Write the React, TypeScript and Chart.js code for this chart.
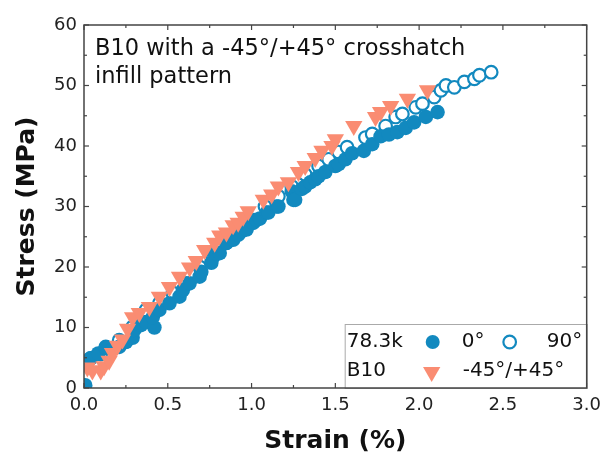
import { useEffect, useRef } from 'react';
import { Chart, registerables } from 'chart.js';

Chart.register(...registerables);

// ---- data (strain %, stress MPa) ----
const strain0 = [0.007, 0.04, 0.085, 0.13, 0.17, 0.21, 0.25, 0.29, 0.30, 0.34, 0.37, 0.42, 0.41, 0.45, 0.51, 0.57, 0.59, 0.63, 0.69, 0.70, 0.76, 0.78, 0.81, 0.85, 0.89, 0.92, 0.94, 0.97, 1.01, 1.03, 1.05, 1.09, 1.10, 1.15, 1.16, 1.24, 1.25, 1.26, 1.30, 1.32, 1.35, 1.38, 1.40, 1.44, 1.50, 1.52, 1.56, 1.60, 1.67, 1.72, 1.77, 1.82, 1.87, 1.92, 1.97, 2.04, 2.11];
const stress0 = [0.45, 4.9, 5.7, 6.6, 6.4, 6.8, 7.6, 8.3, 9.6, 10.4, 10.9, 10.0, 11.7, 12.9, 14.0, 15.1, 16.2, 17.3, 18.4, 19.2, 20.7, 22.3, 22.3, 24.0, 24.5, 25.3, 25.9, 26.2, 27.3, 27.8, 28.0, 29.0, 29.0, 30.0, 30.0, 32.5, 31.1, 31.1, 32.9, 33.3, 34.0, 34.5, 35.0, 35.7, 36.7, 37.0, 37.8, 38.8, 39.2, 40.3, 41.6, 41.9, 42.3, 43.0, 43.9, 44.8, 45.6];

const strain90 = [0.01, 0.04, 0.10, 0.13, 0.21, 0.29, 0.37, 0.45, 0.53, 0.61, 0.69, 0.77, 0.85, 0.93, 1.00, 1.08, 1.16, 1.24, 1.32, 1.40, 1.46, 1.52, 1.57, 1.68, 1.72, 1.80, 1.86, 1.90, 1.98, 2.02, 2.09, 2.13, 2.16, 2.21, 2.27, 2.33, 2.36, 2.43];
const stress90 = [4.3, 4.9, 5.6, 6.8, 7.9, 10.1, 12.9, 14.0, 15.7, 17.3, 20.0, 21.7, 24.0, 26.2, 27.8, 30.0, 31.7, 33.3, 35.3, 36.7, 37.8, 39.0, 39.8, 41.4, 42.0, 43.3, 44.8, 45.3, 46.4, 47.0, 48.1, 49.2, 50.0, 49.7, 50.6, 51.1, 51.7, 52.2];

const strain45 = [0.02, 0.05, 0.10, 0.12, 0.15, 0.17, 0.20, 0.23, 0.26, 0.29, 0.33, 0.39, 0.45, 0.51, 0.57, 0.63, 0.67, 0.72, 0.78, 0.81, 0.85, 0.89, 0.92, 0.95, 0.98, 1.07, 1.12, 1.16, 1.22, 1.28, 1.32, 1.38, 1.42, 1.48, 1.50, 1.61, 1.74, 1.77, 1.83, 1.93, 2.05];
const stress45 = [3.4, 2.9, 2.9, 3.6, 4.5, 5.8, 7.0, 8.0, 9.8, 11.7, 12.4, 13.4, 15.1, 16.7, 18.4, 19.9, 21.0, 22.8, 24.0, 25.2, 25.7, 26.9, 27.3, 28.3, 29.2, 31.1, 32.0, 33.3, 34.0, 35.7, 36.7, 38.0, 39.2, 40.0, 41.1, 43.3, 44.8, 45.6, 46.6, 47.8, 49.2];

const xMajor = [0, 0.5, 1.0, 1.5, 2.0, 2.5, 3.0];
const xMinor = [0.25, 0.75, 1.25, 1.75, 2.25, 2.75];
const yMajor = [0, 10, 20, 30, 40, 50, 60];
const yMinor = [5, 15, 25, 35, 45, 55];

const noteLines = ['B10 with a -45°/+45° crosshatch', 'infill pattern'];
const legendMaterial = ['78.3k', 'B10'];
const legendLabels = ['0°', '90°', '-45°/+45°'];

const BLUE = 'rgb(18,137,191)';
const SALMON = 'rgb(250,140,114)';
const FONT = '"DejaVu Sans", sans-serif';

const toPts = (xs: number[], ys: number[]) => xs.map((x, i) => ({ x, y: ys[i] }));

const decor = {
  id: 'decor',
  afterDatasetsDraw(chart: any) {
    const { ctx, chartArea: a, scales } = chart;
    const xs = scales.x;
    const ys = scales.y;
    ctx.save();
    ctx.strokeStyle = '#444';
    ctx.lineWidth = 1.2;
    const tick = (x1: number, y1: number, x2: number, y2: number) => {
      ctx.beginPath();
      ctx.moveTo(x1, y1);
      ctx.lineTo(x2, y2);
      ctx.stroke();
    };
    xMajor.forEach((v) => {
      const p = xs.getPixelForValue(v);
      tick(p, a.bottom, p, a.bottom - 5);
      tick(p, a.top, p, a.top + 5);
    });
    xMinor.forEach((v) => {
      const p = xs.getPixelForValue(v);
      tick(p, a.bottom, p, a.bottom - 3);
      tick(p, a.top, p, a.top + 3);
    });
    yMajor.forEach((v) => {
      const p = ys.getPixelForValue(v);
      tick(a.left, p, a.left + 5, p);
      tick(a.right, p, a.right - 5, p);
    });
    yMinor.forEach((v) => {
      const p = ys.getPixelForValue(v);
      tick(a.left, p, a.left + 3, p);
      tick(a.right, p, a.right - 3, p);
    });

    // annotation
    ctx.fillStyle = '#111';
    ctx.font = `22.5px ${FONT}`;
    ctx.textBaseline = 'alphabetic';
    ctx.textAlign = 'left';
    ctx.fillText(noteLines[0], a.left + 11, a.top + 30);
    ctx.fillText(noteLines[1], a.left + 11, a.top + 58);

    // legend box
    const bx = a.right - 242;
    const by = a.bottom - 64;
    ctx.fillStyle = '#fff';
    ctx.fillRect(bx, by, a.right - bx, a.bottom - by);
    ctx.strokeStyle = '#aaa';
    ctx.lineWidth = 1;
    ctx.strokeRect(bx + 0.5, by + 0.5, a.right - bx, a.bottom - by);

    const r1 = by + 18;
    const r2 = by + 47;
    ctx.fillStyle = '#111';
    ctx.font = `20px ${FONT}`;
    ctx.textBaseline = 'middle';
    ctx.fillText(legendMaterial[0], bx + 2, r1);
    ctx.fillText(legendLabels[0], bx + 117, r1);
    ctx.fillText(legendLabels[1], bx + 202, r1);
    ctx.fillText(legendMaterial[1], bx + 2, r2);
    ctx.fillText(legendLabels[2], bx + 118, r2);

    // legend markers
    ctx.fillStyle = BLUE;
    ctx.beginPath();
    ctx.arc(bx + 88, r1, 7, 0, Math.PI * 2);
    ctx.fill();
    ctx.strokeStyle = BLUE;
    ctx.lineWidth = 2.2;
    ctx.beginPath();
    ctx.arc(bx + 165, r1, 6.3, 0, Math.PI * 2);
    ctx.stroke();
    const tr = 10;
    const tx = bx + 87;
    const ty = r2 + 1;
    ctx.fillStyle = SALMON;
    ctx.beginPath();
    ctx.moveTo(tx, ty + tr);
    ctx.lineTo(tx - tr * 0.866, ty - tr / 2);
    ctx.lineTo(tx + tr * 0.866, ty - tr / 2);
    ctx.closePath();
    ctx.fill();

    // frame
    ctx.strokeStyle = '#444';
    ctx.lineWidth = 1.5;
    ctx.strokeRect(a.left, a.top, a.right - a.left, a.bottom - a.top);
    ctx.restore();
  },
};

export default function App() {
  const ref = useRef<HTMLCanvasElement>(null);

  useEffect(() => {
    if (!ref.current) return;
    const chart = new Chart(ref.current, {
      type: 'scatter',
      data: {
        datasets: [
          {
            label: '-45°/+45°',
            data: toPts(strain45, stress45),
            pointStyle: 'triangle',
            rotation: 180,
            pointRadius: 10,
            backgroundColor: SALMON,
            borderColor: SALMON,
            borderWidth: 0,
            order: 1,
          },
          {
            label: '0°',
            data: toPts(strain0, stress0),
            pointStyle: 'circle',
            pointRadius: 7.3,
            backgroundColor: BLUE,
            borderColor: BLUE,
            borderWidth: 0,
            order: 2,
          },
          {
            label: '90°',
            data: toPts(strain90, stress90),
            pointStyle: 'circle',
            pointRadius: 6.3,
            backgroundColor: 'rgba(255,255,255,1)',
            borderColor: BLUE,
            borderWidth: 2.2,
            order: 3,
          },
        ],
      },
      options: {
        animation: false,
        responsive: true,
        maintainAspectRatio: false,
        layout: { padding: { left: 0, top: 25, right: 18, bottom: 0 } },
        plugins: {
          legend: { display: false },
          tooltip: { enabled: false },
        },
        scales: {
          x: {
            type: 'linear',
            min: 0,
            max: 3,
            grid: { display: false, drawTicks: false },
            border: { display: false },
            afterFit: (s: any) => {
              s.height = 71;
            },
            ticks: {
              stepSize: 0.5,
              padding: 7,
              color: '#222',
              font: { family: FONT, size: 18 },
              callback: (v: any) => Number(v).toFixed(1),
              maxRotation: 0,
            },
            title: {
              display: true,
              text: 'Strain (%)',
              color: '#111',
              font: { family: FONT, size: 25, weight: 'bold' },
              padding: { top: 0, bottom: 3 },
            },
          },
          y: {
            type: 'linear',
            min: 0,
            max: 60,
            grid: { display: false, drawTicks: false },
            border: { display: false },
            afterFit: (s: any) => {
              s.width = 84;
            },
            ticks: {
              stepSize: 10,
              padding: 7,
              color: '#222',
              font: { family: FONT, size: 18 },
            },
            title: {
              display: true,
              text: 'Stress (MPa)',
              color: '#111',
              font: { family: FONT, size: 25, weight: 'bold' },
              padding: { top: 12, bottom: 0 },
            },
          },
        },
      },
      plugins: [decor],
    });
    return () => chart.destroy();
  }, []);

  return (
    <div style={{ position: 'fixed', left: 0, top: 0, width: 608, height: 459, background: '#fff' }}>
      <canvas ref={ref} />
    </div>
  );
}
